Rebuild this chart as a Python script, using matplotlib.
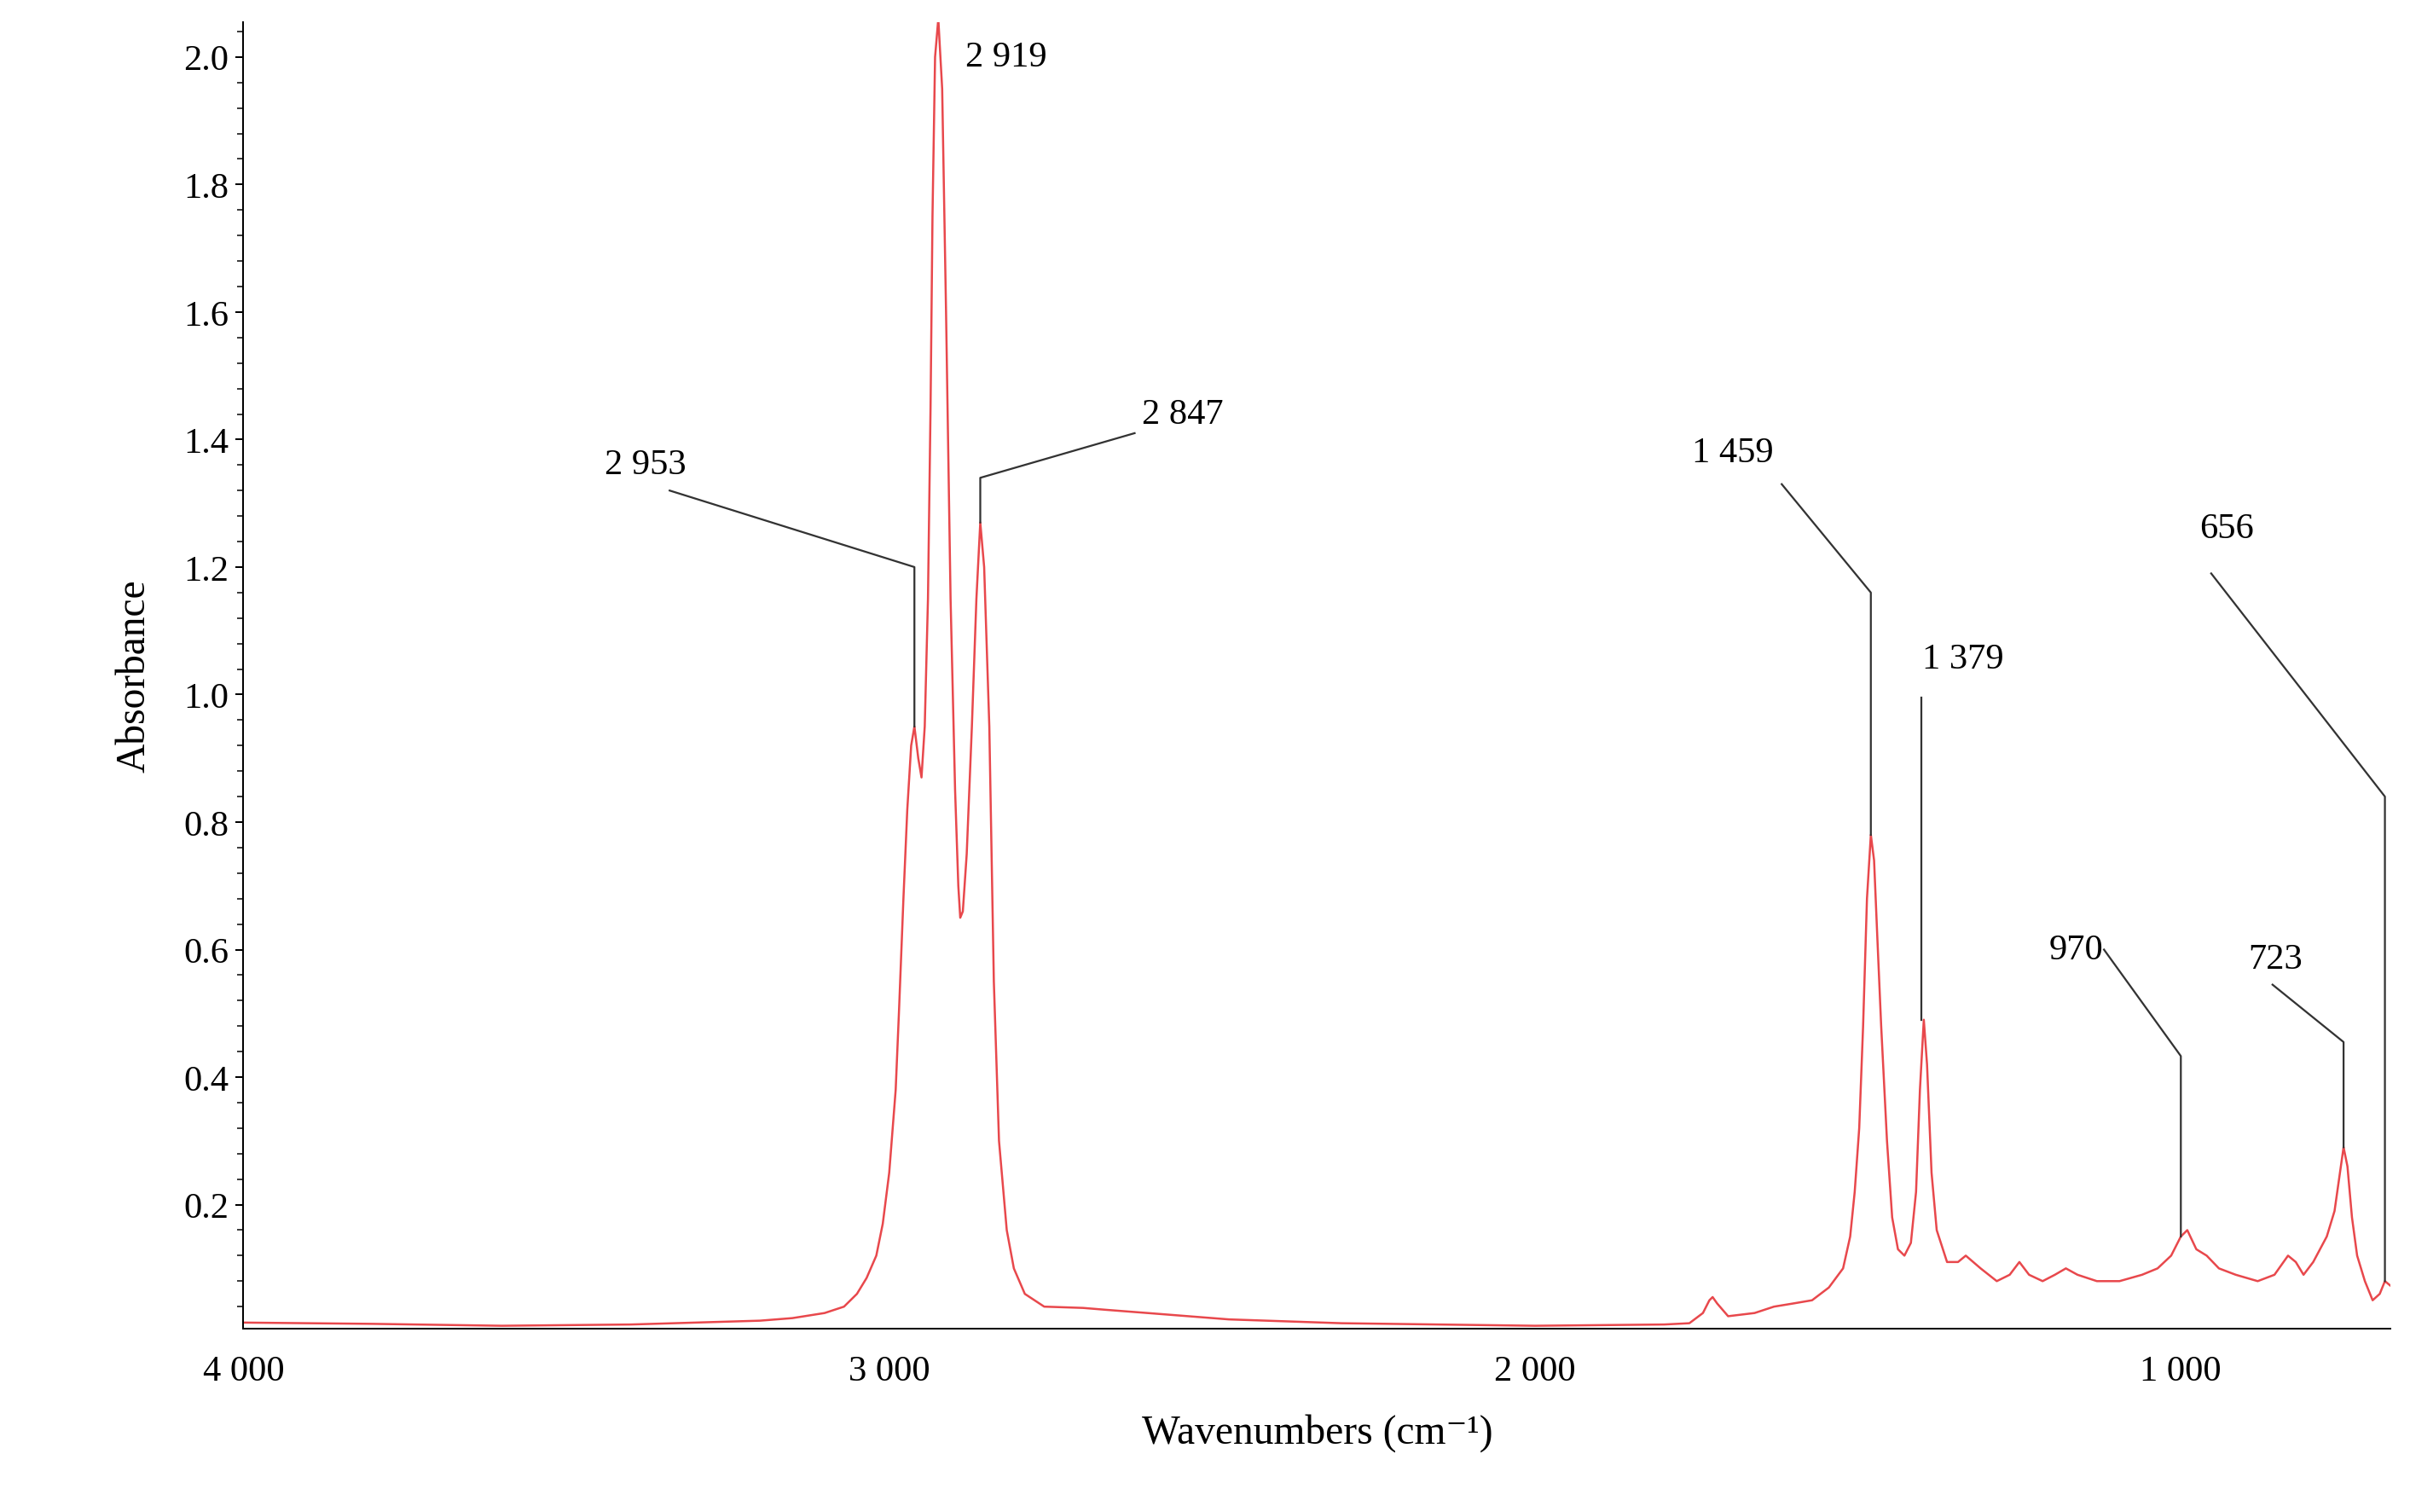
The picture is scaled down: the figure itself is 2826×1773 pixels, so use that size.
import matplotlib
matplotlib.use("Agg")
import matplotlib.pyplot as plt
from matplotlib.ticker import FixedLocator, MultipleLocator

# spectrum (wavenumber cm-1, absorbance)
wavenumber = [4000, 3800, 3600, 3400, 3200, 3150, 3100, 3070, 3050, 3035, 3020, 3010,
              3000, 2990, 2985, 2978, 2972, 2966, 2961, 2955, 2950, 2945, 2940, 2936,
              2933, 2929, 2924, 2918, 2912, 2905, 2898, 2893, 2890, 2886, 2880, 2872,
              2865, 2859, 2853, 2845, 2838, 2830, 2818, 2807, 2790, 2760, 2700, 2664,
              2600, 2474, 2300, 2000, 1800, 1761, 1740, 1730, 1725, 1718, 1701, 1660,
              1630, 1600, 1571, 1545, 1523, 1512, 1505, 1498, 1492, 1486, 1480, 1475,
              1470, 1464, 1455, 1447, 1438, 1428, 1418, 1410, 1404, 1398, 1393, 1386,
              1378, 1362, 1345, 1333, 1310, 1285, 1265, 1250, 1235, 1214, 1195, 1178,
              1160, 1130, 1095, 1060, 1036, 1015, 1000, 990, 976, 960, 941, 915,
              881, 855, 834, 822, 810, 795, 774, 762, 755, 748, 742, 735,
              727, 715, 703, 692, 684, 672]
absorbance = [0.015, 0.013, 0.010, 0.012, 0.018, 0.022, 0.030, 0.040, 0.060, 0.085, 0.12, 0.17,
              0.25, 0.38, 0.50, 0.68, 0.82, 0.92, 0.95, 0.90, 0.87, 0.95, 1.15, 1.45,
              1.75, 2.00, 2.06, 1.95, 1.60, 1.15, 0.85, 0.70, 0.65, 0.66, 0.75, 0.95,
              1.15, 1.27, 1.20, 0.95, 0.55, 0.30, 0.16, 0.10, 0.06, 0.040, 0.038, 0.035,
              0.030, 0.020, 0.014, 0.010, 0.012, 0.014, 0.030, 0.050, 0.055, 0.045, 0.025, 0.030,
              0.040, 0.045, 0.050, 0.070, 0.10, 0.15, 0.22, 0.32, 0.48, 0.68, 0.78, 0.74,
              0.62, 0.48, 0.30, 0.18, 0.13, 0.12, 0.14, 0.22, 0.38, 0.49, 0.42, 0.25,
              0.16, 0.11, 0.11, 0.12, 0.10, 0.08, 0.09, 0.11, 0.09, 0.08, 0.09, 0.10,
              0.09, 0.08, 0.08, 0.09, 0.10, 0.12, 0.15, 0.16, 0.13, 0.12, 0.10, 0.09,
              0.08, 0.09, 0.12, 0.11, 0.09, 0.11, 0.15, 0.19, 0.24, 0.29, 0.26, 0.18,
              0.12, 0.08, 0.05, 0.06, 0.08, 0.07]

# peak labels: text, label pos, elbow pos, peak pos
peak_labels = ["2 919", "2 953", "2 847", "1 459", "1 379", "970", "723", "656"]
label_xy = [(2819, 2.00), (3377, 1.36), (2545, 1.44), (1694, 1.38), (1338, 1.055),
            (1162, 0.60), (853, 0.585), (929, 1.26)]
line_start = [None, (3340, 1.32), (2620, 1.41), (1618, 1.33), None, (1119, 0.60), (858, 0.545), (953, 1.19)]
elbow_xy = [None, (2961, 1.20), (2859, 1.34), (1480, 1.16), (1402, 0.995), (1000, 0.433), (748, 0.455), (684, 0.84)]
peak_xy = [None, (2961, 0.95), (2859, 1.27), (1480, 0.78), (1402, 0.49), (1000, 0.15), (748, 0.29), (684, 0.08)]

plt.rcParams["font.family"] = ["Liberation Serif", "DejaVu Serif"]

fig = plt.figure(figsize=(15.7, 9.855), dpi=180)
ax = fig.add_axes([0.101, 0.121, 0.891, 0.864])
ax.plot(wavenumber, absorbance, color="#e8484c", linewidth=1.0)

for text, lxy, start, elbow, peak in zip(peak_labels, label_xy, line_start, elbow_xy, peak_xy):
    ax.text(lxy[0], lxy[1], text, fontsize=17, ha="center", va="center")
    if elbow is None:
        continue
    xs, ys = [], []
    if start is not None:
        xs.append(start[0]); ys.append(start[1])
    xs += [elbow[0], peak[0]]
    ys += [elbow[1], peak[1]]
    ax.plot(xs, ys, color="#333333", linewidth=0.9)

ax.set_xlim(4000, 675)
ax.set_ylim(0.005, 2.055)
ax.xaxis.set_major_locator(FixedLocator([4000, 3000, 2000, 1000]))
ax.set_xticklabels(["4 000", "3 000", "2 000", "1 000"])
ax.yaxis.set_major_locator(MultipleLocator(0.2))
ax.yaxis.set_minor_locator(MultipleLocator(0.04))
ax.set_yticks([0.2, 0.4, 0.6, 0.8, 1.0, 1.2, 1.4, 1.6, 1.8, 2.0])
ax.tick_params(labelsize=17)
ax.tick_params(axis="y", which="minor", length=3)
ax.tick_params(axis="x", which="major", length=0, pad=12)
for side in ("top", "right"):
    ax.spines[side].set_visible(False)
ax.set_xlabel("Wavenumbers (cm\u207b\u00b9)", fontsize=19, labelpad=12)
ax.set_ylabel("Absorbance", fontsize=19, labelpad=14)

fig.savefig("out.png", dpi=180)
